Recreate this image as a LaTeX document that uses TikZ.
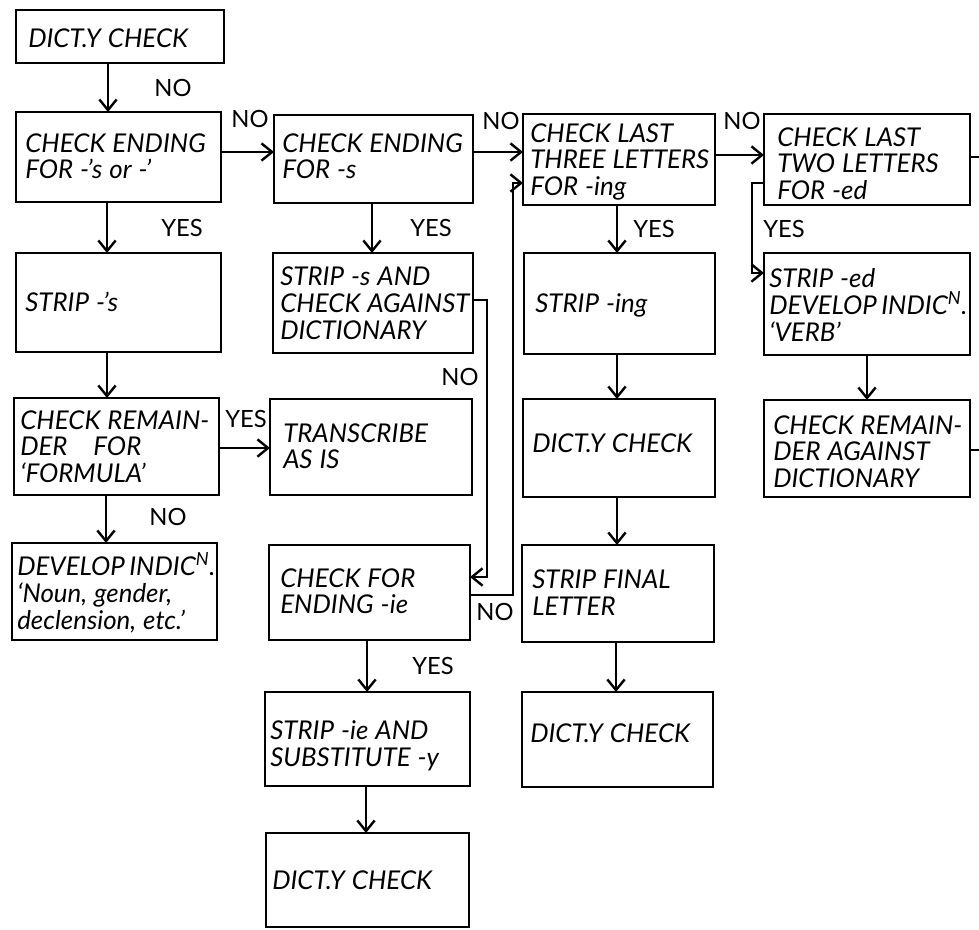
\documentclass[tikz,border=0pt]{standalone}
\usepackage{fontspec}
\setmainfont{Lato}
\usetikzlibrary{calc,arrows.meta}
\newcommand\bx[5]{\node[box, minimum width={(#4-#2)*0.75pt}, minimum height={(#5-#3)*0.75pt}] (#1) at ({(#2+#4)/2},{(#3+#5)/2}) {};}
\newcommand\tx[4]{\node[txt] (#1) at (#2,#3) {#4};}
\newcommand\lb[4]{\node[lbl] (#1) at (#2,#3) {#4};}
\newcommand\indicn{DEVELOP\hspace{0.17em}INDIC\textsuperscript{N}.}
\newcommand\boxfont{\itshape\fontsize{19.4}{20.2}\selectfont\spaceskip=0.27em plus 0.1em\relax}
\begin{document}
\begin{tikzpicture}[x=0.75pt,y=-0.75pt,
  box/.style={draw,line width=2.2pt,inner sep=0pt,outer sep=0pt},
  txt/.style={anchor=north west,inner sep=0pt,align=left,font=\boxfont},
  lbl/.style={inner sep=0pt,font=\fontsize{17.8}{20}\selectfont},
  conn/.style={line width=1.8pt},
  arr/.style={conn,-{Straight Barb[length=8pt,width=13pt,line width=1.8pt]}}]
\useasboundingbox (0,0) rectangle (979,929);
% boxes
\bx{b1}{16}{10}{224}{63}
\bx{b2}{16}{112}{221}{202}
\bx{b3}{16}{253}{221}{352}
\bx{b4}{14}{398}{219}{495}
\bx{b5}{12}{543}{217}{640}
\bx{b6}{274}{115}{473}{203}
\bx{b7}{273}{253}{473}{353}
\bx{b8}{270}{399}{472}{495}
\bx{b9}{269}{545}{470}{640}
\bx{b10}{265}{692}{470}{786}
\bx{b11}{266}{833}{469}{927}
\bx{b12}{523}{114}{715}{205}
\bx{b13}{524}{253}{715}{354}
\bx{b14}{523}{399}{715}{497}
\bx{b15}{522}{545}{714}{642}
\bx{b16}{522}{692}{713}{787}
\bx{b17}{764}{114}{970}{205}
\bx{b18}{764}{253}{970}{355}
\bx{b19}{764}{400}{970}{497}
% texts
\tx{t1}{28}{28}{DICT.Y CHECK}
\tx{t2}{25}{133}{CHECK ENDING\\FOR -'s or -'}
\tx{t3}{25}{292}{STRIP -'s}
\tx{t4}{20}{410}{CHECK REMAIN-\\DER\quad FOR\\`FORMULA'}
\tx{t5}{17}{552}{\indicn\\`Noun, gender,\\declension, etc.'}
\tx{t6}{282}{133}{CHECK ENDING\\FOR -s}
\tx{t7}{280}{267}{STRIP -s AND\\CHECK AGAINST\\DICTIONARY}
\tx{t8}{283}{423}{TRANSCRIBE\\AS IS}
\tx{t9}{280}{568}{CHECK FOR\\ENDING -ie}
\tx{t10}{270}{720}{STRIP -ie AND\\SUBSTITUTE -y}
\tx{t11}{272}{870}{DICT.Y CHECK}
\tx{t12}{530}{123}{CHECK LAST\\THREE LETTERS\\FOR -ing}
\tx{t13}{535}{293}{STRIP -ing}
\tx{t14}{532}{433}{DICT.Y CHECK}
\tx{t15}{532}{570}{STRIP FINAL\\LETTER}
\tx{t16}{530}{723}{DICT.Y CHECK}
\tx{t17}{777}{127}{CHECK LAST\\TWO LETTERS\\FOR -ed}
\tx{t18}{769}{268}{STRIP -ed\\\indicn\\`VERB'}
\tx{t19}{773}{415}{CHECK REMAIN-\\DER AGAINST\\DICTIONARY}
% vertical arrows
\draw[arr] ($(b1.south west)+(92,0)$) coordinate (a1) -- (a1 |- b2.north);
\draw[arr] ($(b2.south west)+(91,0)$) coordinate (a2) -- (a2 |- b3.north);
\draw[arr] ($(b3.south west)+(91,0)$) coordinate (a3) -- (a3 |- b4.north);
\draw[arr] ($(b4.south west)+(92,0)$) coordinate (a4) -- (a4 |- b5.north);
\draw[arr] ($(b6.south west)+(98,0)$) coordinate (a5) -- (a5 |- b7.north);
\draw[arr] ($(b9.south west)+(98,0)$) coordinate (a6) -- (a6 |- b10.north);
\draw[arr] ($(b10.south west)+(101,0)$) coordinate (a7) -- (a7 |- b11.north);
\draw[arr] ($(b12.south west)+(94,0)$) coordinate (a8) -- (a8 |- b13.north);
\draw[arr] ($(b13.south west)+(93,0)$) coordinate (a9) -- (a9 |- b14.north);
\draw[arr] ($(b14.south west)+(94,0)$) coordinate (a10) -- (a10 |- b15.north);
\draw[arr] ($(b15.south west)+(94,0)$) coordinate (a11) -- (a11 |- b16.north);
\draw[arr] ($(b18.south west)+(103,0)$) coordinate (a12) -- (a12 |- b19.north);
% horizontal arrows
\draw[arr] ($(b2.north east)+(0,40)$) coordinate (h1) -- (h1 -| b6.west);
\draw[arr] ($(b6.north east)+(0,37)$) coordinate (h2) -- (h2 -| b12.west);
\draw[arr] ($(b12.north east)+(0,41)$) coordinate (h3) -- (h3 -| b17.west);
\draw[arr] ($(b4.north east)+(0,50)$) coordinate (h4) -- (h4 -| b8.west);
% routed arrows
\draw[arr] ($(b7.north east)+(0,47)$) -- ++(14,0) |- ($(b9.north east)+(0,32)$);
\draw[arr] ($(b9.north east)+(0,50)$) -- ++(43,0) |- ($(b12.north west)+(0,69)$);
\draw[arr] ($(b17.north west)+(0,69)$) -- ++(-12,0) |- ($(b18.north west)+(0,20)$);
% stubs leaving the picture
\coordinate (s1) at (979,157);
\coordinate (s2) at (979,450);
\draw[conn] ($(b17.north east)+(0,43)$) -- (s1);
\draw[conn] ($(b19.north east)+(0,50)$) -- (s2);
% labels
\lb{l1}{173}{88}{NO}
\lb{l2}{250}{119}{NO}
\lb{l3}{182}{228}{YES}
\lb{l4}{431}{228}{YES}
\lb{l5}{501}{121}{NO}
\lb{l6}{742}{121}{NO}
\lb{l7}{654}{229}{YES}
\lb{l8}{784}{229}{YES}
\lb{l9}{246}{419}{YES}
\lb{l10}{168}{517}{NO}
\lb{l11}{460}{377}{NO}
\lb{l12}{495}{612}{NO}
\lb{l13}{433}{666}{YES}
\end{tikzpicture}
\end{document}
